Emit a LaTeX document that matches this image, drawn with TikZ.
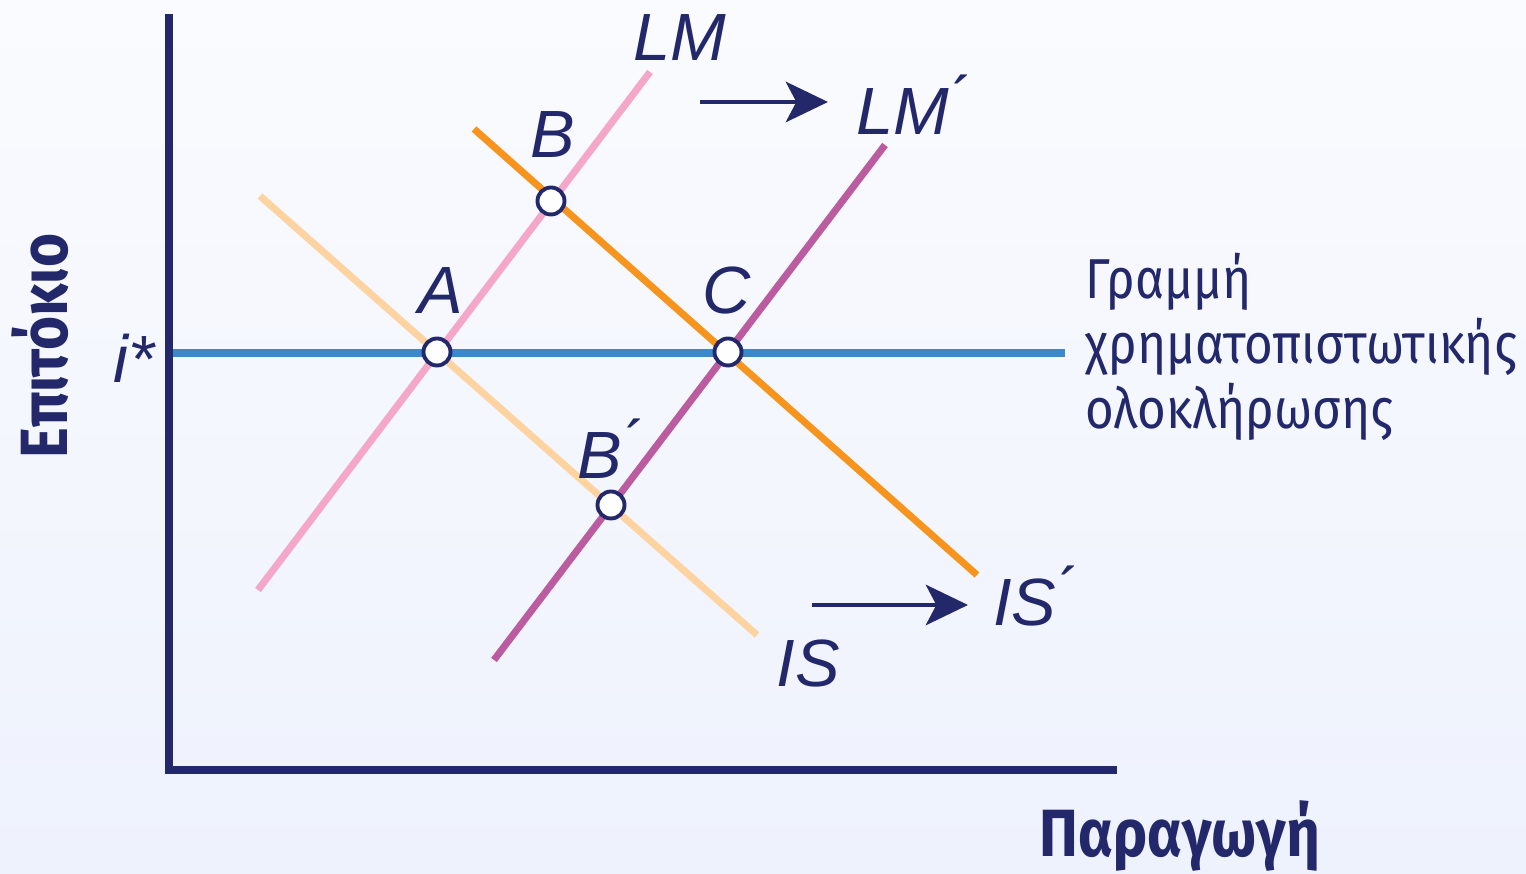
\documentclass[tikz,border=0pt]{standalone}
\usepackage{fontspec}
\setmainfont{Liberation Sans}
\newfontfamily\grk[FakeStretch=0.875]{Fira Sans}
\usepackage{tikz}
\usetikzlibrary{positioning, arrows.meta, calc}
\definecolor{navy}{HTML}{23286B}
\definecolor{iline}{HTML}{3D88C9}
\definecolor{lmpink}{HTML}{F4A7C9}
\definecolor{lmmag}{HTML}{BA5C9F}
\definecolor{islight}{HTML}{FDD3A2}
\definecolor{isorange}{HTML}{F7941E}
\definecolor{bgtop}{HTML}{FAFBFE}
\definecolor{bgbot}{HTML}{EEF2FD}
\tikzset{
    axis/.style={
        draw=navy,
        line width=2.3pt
    },
    curve/.style={
        line width=2pt
    },
    point/.style={
        circle,
        draw=navy,
        fill=white!85!bgtop,
        line width=1.1pt,
        inner sep=0pt,
        minimum size=0.27cm
    },
    lbl/.style={
        text=navy,
        font=\fontsize{19}{22}\selectfont\itshape,
        inner sep=0pt
    },
    shiftarrow/.style={
        -{Stealth[length=12pt, width=11.5pt, inset=3pt]},
        draw=navy,
        line width=1.1pt
    },
    axlbl/.style={
        text=navy,
        font=\grk\fontsize{19}{22}\selectfont\bfseries,
        inner sep=0pt
    }
}
\begin{document}
\begin{tikzpicture}[x=0.01cm, y=-0.01cm]
    \shade[top color=bgtop, bottom color=bgbot] (0,0) rectangle (1526,874);
    \useasboundingbox (0,0) rectangle (1526,874);

    % axes
    \coordinate (origin) at (169,770);
    \coordinate (ytop) at (169,14);
    \coordinate (xend) at (1117,770);
    \draw[axis] (ytop) -- (origin) -- (xend);
    \node[axlbl, rotate=90] (ylabel) at (40,346) {Επιτόκιο};
    \node[axlbl] (xlabel) at (1180,836) {Παραγωγή};

    % financial integration line
    \coordinate (iS) at (173,353);
    \coordinate (iE) at (1065,353);
    \draw[curve, iline] (iS) -- (iE);
    \node[lbl] (istar) at (134,358) {i*};
    \node[text=navy, font=\grk\fontsize{16}{18.5}\selectfont, align=left,
          anchor=north west, inner sep=0pt] (fin) at (1085,252)
          {Γραμμή\\χρηματοπιστωτικής\\ολοκλήρωσης};

    % IS and LM curves
    \coordinate (isA) at (260,196);
    \coordinate (isB) at (757,635);
    \coordinate (ispA) at (474,129);
    \coordinate (ispB) at (977,575);
    \coordinate (lmA) at (258,590);
    \coordinate (lmB) at (650,72);
    \coordinate (lmpA) at (494,660);
    \coordinate (lmpB) at (885,145);
    \draw[curve, islight] (isA) -- (isB);
    \draw[curve, lmpink] (lmA) -- (lmB);
    \draw[curve, lmmag] (lmpA) -- (lmpB);
    \draw[curve, isorange] (ispA) -- (ispB);

    % equilibria
    \node[point] (ptA) at (437,352) {};
    \node[point] (ptB) at (551,201) {};
    \node[point] (ptC) at (728,352) {};
    \node[point] (ptBp) at (611,505) {};
    \node[lbl] (labA) at (441,291) {A};
    \node[lbl] (labB) at (553,135) {B};
    \node[lbl] (labC) at (727,291) {C};
    \node[lbl] (labBp) at (609,449) {B\'{}};

    \node[lbl] (labLM) at (680,38) {LM};
    \node[lbl] (labLMp) at (912,105) {LM\'{}};
    \node[lbl] (labIS) at (808,664) {IS};
    \node[lbl] (labISp) at (1034,596) {IS\'{}};

    % shifts
    \coordinate (lmShiftS) at (700,102);
    \coordinate (lmShiftE) at (828,102);
    \coordinate (isShiftS) at (812,605);
    \coordinate (isShiftE) at (968,605);
    \draw[shiftarrow] (lmShiftS) -- (lmShiftE);
    \draw[shiftarrow] (isShiftS) -- (isShiftE);
\end{tikzpicture}
\end{document}
